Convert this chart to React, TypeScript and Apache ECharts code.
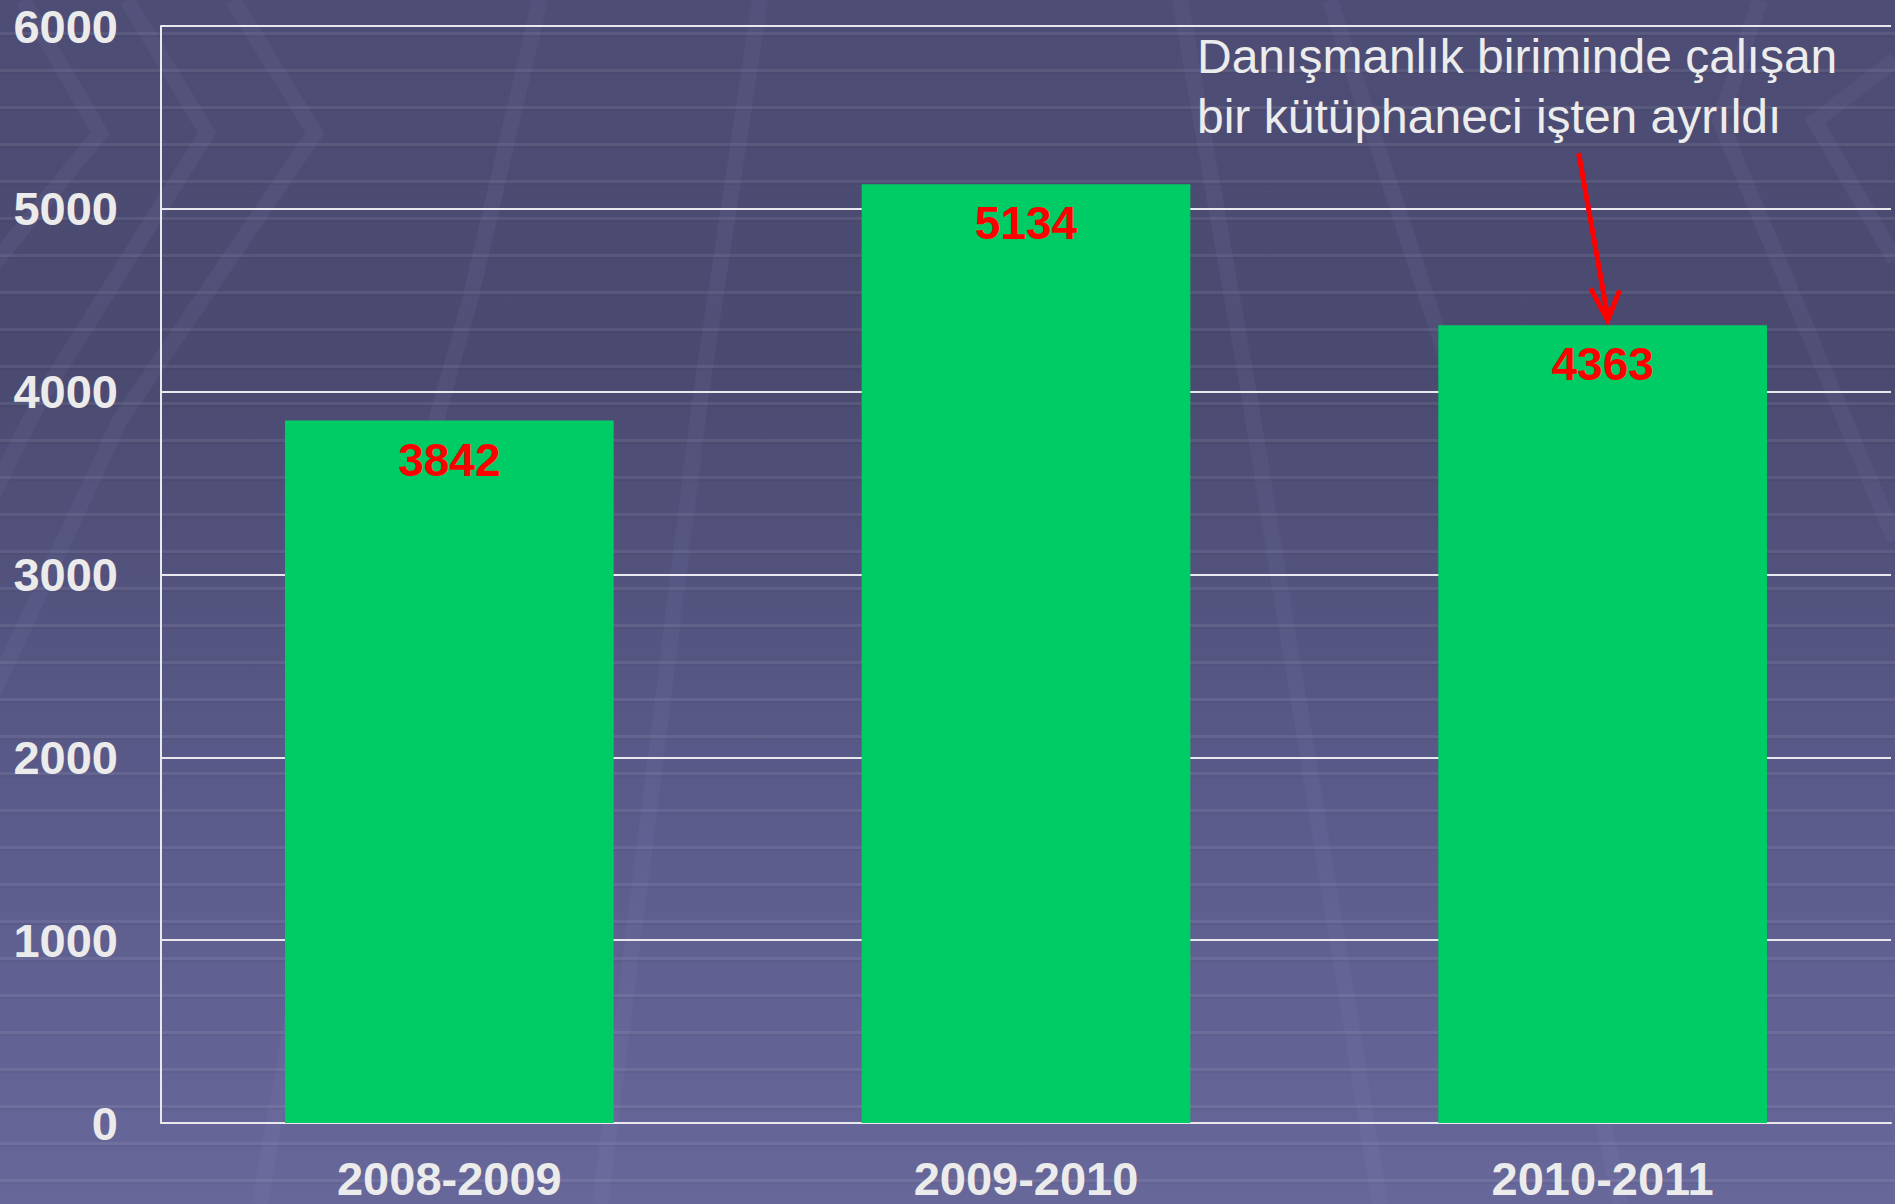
import React, { useEffect, useRef } from "react";
import * as echarts from "echarts";

const categories = ["2008-2009", "2009-2010", "2010-2011"];
const values = [3842, 5134, 4363];
const yTicks = [0, 1000, 2000, 3000, 4000, 5000, 6000];
const noteLines = ["Danışmanlık biriminde çalışan", "bir kütüphaneci işten ayrıldı"];
const noteIndex = 2;

// faint decorative background bands (page coordinates)
const bgBands: number[][][] = [
  [[23, 0], [100, 133], [-60, 330]],
  [[127, 0], [207, 133], [40, 400], [-40, 560]],
  [[233, 0], [315, 133], [120, 420], [-10, 700]],
  [[540, 0], [470, 300], [330, 800], [260, 1204]],
  [[760, 0], [700, 400], [600, 1204]],
  [[1180, 0], [1250, 400], [1380, 1204]],
  [[1330, 0], [1460, 400], [1620, 1204]],
  [[1895, 60], [1815, 121], [1895, 260]],
  [[1760, 0], [1720, 121], [1895, 540]],
];

export default function App() {
  const ref = useRef<HTMLDivElement>(null);
  useEffect(() => {
    document.body.style.margin = "0";
    const chart = echarts.init(ref.current!, null, { renderer: "svg" });
    const font = "'Liberation Sans', Arial, sans-serif";
    chart.setOption({
      animation: false,
      backgroundColor: "transparent",
      grid: { left: 161, right: 4, top: 26, bottom: 81, containLabel: false },
      xAxis: {
        type: "category",
        data: categories,
        axisLine: { show: true, lineStyle: { color: "#e8e8ee", width: 2 } },
        axisTick: { show: false },
        axisLabel: {
          color: "#ebebeb",
          fontFamily: font,
          fontWeight: "bold",
          fontSize: 47,
          lineHeight: 48,
          margin: 31,
        },
      },
      yAxis: {
        type: "value",
        min: yTicks[0],
        max: yTicks[yTicks.length - 1],
        interval: 1000,
        axisLine: { show: true, lineStyle: { color: "#e8e8ee", width: 2 } },
        axisTick: { show: false },
        splitLine: { show: true, lineStyle: { color: "#e8e8ee", width: 2 } },
        axisLabel: {
          color: "#ebebeb",
          fontFamily: font,
          fontWeight: "bold",
          fontSize: 47,
          margin: 43,
          formatter: (v: number) => String(v),
        },
      },
      series: [
        {
          type: "bar",
          data: values,
          barCategoryGap: "43%",
          itemStyle: { color: "#00cc66" },
          label: {
            show: true,
            position: "insideTop",
            distance: 16,
            color: "#ff0000",
            fontFamily: font,
            fontWeight: "bold",
            fontSize: 46,
          },
        },
      ],
    });
    const tip = chart.convertToPixel({ xAxisIndex: 0, yAxisIndex: 0 }, [
      categories[noteIndex],
      values[noteIndex],
    ]) as number[];
    const tx = tip[0] + 5;
    const ty = tip[1] - 5;
    const sx = tx - 29;
    const sy = ty - 167;
    chart.setOption({
      graphic: [
        ...bgBands.map((pts) => ({
          type: "polyline",
          z: -10,
          silent: true,
          shape: { points: pts },
          style: { stroke: "rgba(150,150,210,0.08)", lineWidth: 16, fill: "none" },
        })),
        {
          type: "text",
          left: 1197,
          top: 26,
          style: {
            text: noteLines.join("\n"),
            fill: "#ececec",
            font: `48px ${font}`,
            lineHeight: 60,
          },
        },
        {
          type: "line",
          shape: { x1: sx, y1: sy, x2: tx, y2: ty - 4 },
          style: { stroke: "#ff0000", lineWidth: 5 },
        },
        {
          type: "polyline",
          shape: {
            points: [
              [tx - 17, ty - 32],
              [tx, ty],
              [tx + 12, ty - 30],
            ],
          },
          style: { stroke: "#ff0000", lineWidth: 5, fill: "none" },
        },
      ],
    });
    return () => chart.dispose();
  }, []);
  return (
    <div
      style={{
        position: "absolute",
        left: 0,
        top: 0,
        width: 1895,
        height: 1204,
        background:
          "repeating-linear-gradient(180deg, rgba(0,0,0,0) 0px, rgba(0,0,0,0) 32px, rgba(255,255,255,0.07) 32px, rgba(255,255,255,0.07) 35px, rgba(0,0,0,0.04) 35px, rgba(0,0,0,0.04) 37px), linear-gradient(180deg, #4e4d76 0%, #4a4a70 30%, #5a5a8a 65%, #67679a 100%)",
      }}
    >
      <div ref={ref} style={{ width: 1895, height: 1204 }} />
    </div>
  );
}
